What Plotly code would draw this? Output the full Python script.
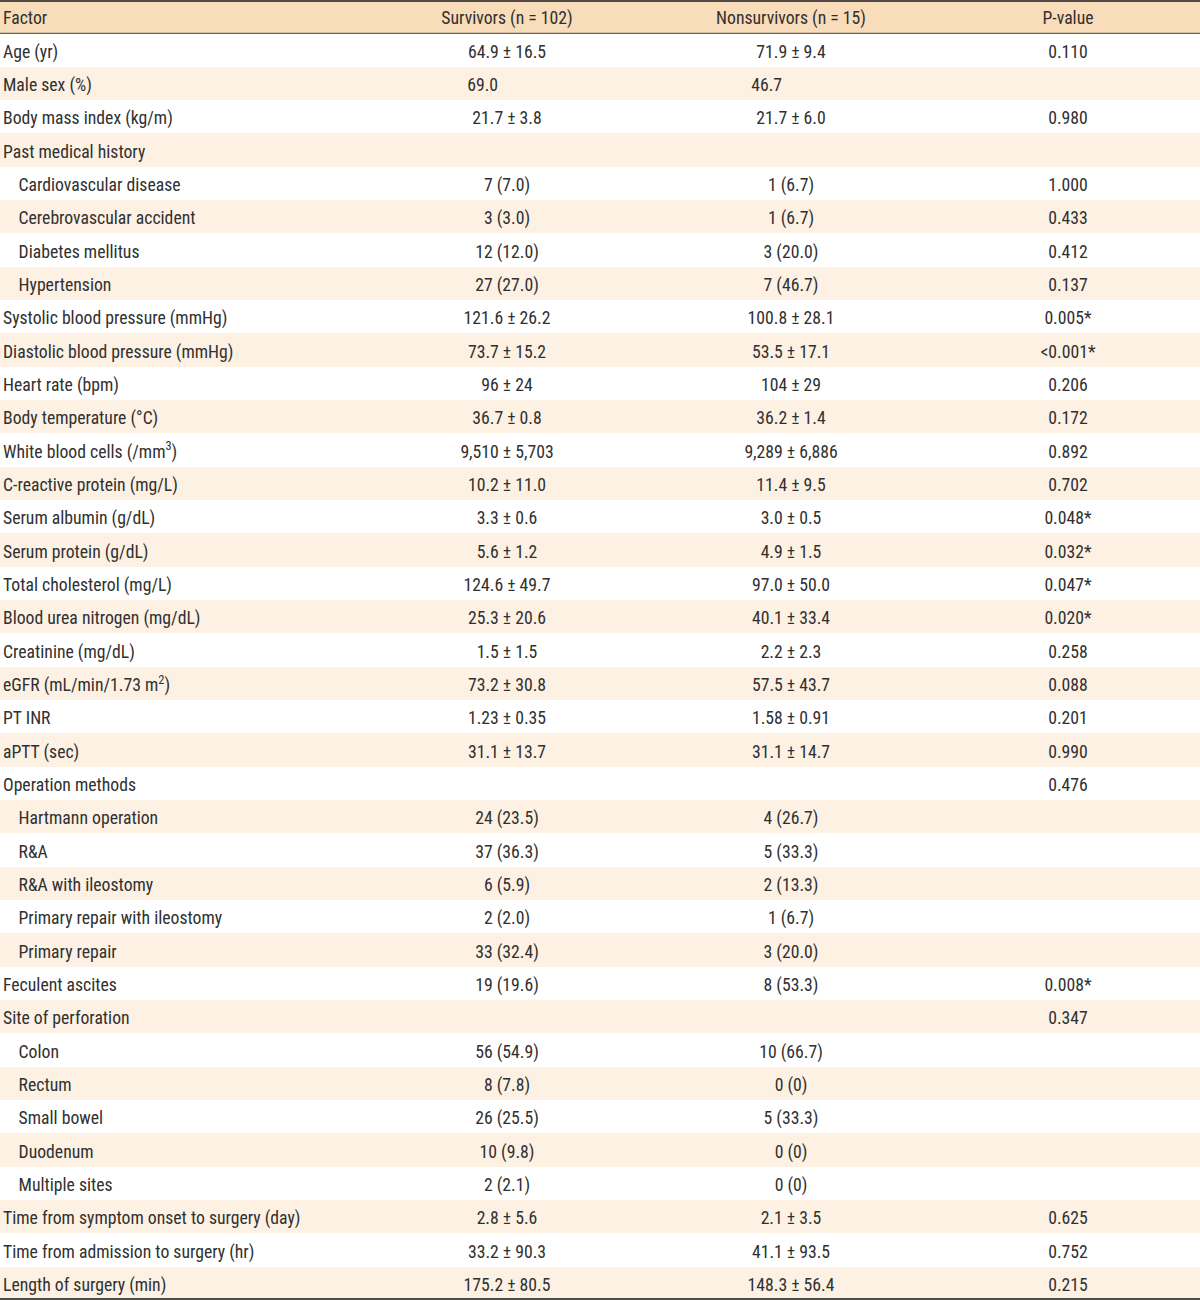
import plotly.graph_objects as go

headers = ["Factor", "Survivors (n = 102)", "Nonsurvivors (n = 15)", "P-value"]

IND = "\u00a0\u00a0\u00a0\u2009"
PAD = "\u00a0" * 12

factors = [
    "Age (yr)", "Male sex (%)", "Body mass index (kg/m)", "Past medical history",
    IND + "Cardiovascular disease", IND + "Cerebrovascular accident", IND + "Diabetes mellitus", IND + "Hypertension",
    "Systolic blood pressure (mmHg)", "Diastolic blood pressure (mmHg)", "Heart rate (bpm)",
    "Body temperature (°C)", "White blood cells (/mm<sup>3</sup>)", "C-reactive protein (mg/L)",
    "Serum albumin (g/dL)", "Serum protein (g/dL)", "Total cholesterol (mg/L)",
    "Blood urea nitrogen (mg/dL)", "Creatinine (mg/dL)", "eGFR (mL/min/1.73 m<sup>2</sup>)",
    "PT INR", "aPTT (sec)", "Operation methods",
    IND + "Hartmann operation", IND + "R&A", IND + "R&A with ileostomy",
    IND + "Primary repair with ileostomy", IND + "Primary repair",
    "Feculent ascites", "Site of perforation",
    IND + "Colon", IND + "Rectum", IND + "Small bowel", IND + "Duodenum", IND + "Multiple sites",
    "Time from symptom onset to surgery (day)", "Time from admission to surgery (hr)",
    "Length of surgery (min)",
]

survivors = [
    "64.9 ± 16.5", "69.0" + PAD, "21.7 ± 3.8", "",
    "7 (7.0)", "3 (3.0)", "12 (12.0)", "27 (27.0)",
    "121.6 ± 26.2", "73.7 ± 15.2", "96 ± 24", "36.7 ± 0.8", "9,510 ± 5,703",
    "10.2 ± 11.0", "3.3 ± 0.6", "5.6 ± 1.2", "124.6 ± 49.7", "25.3 ± 20.6",
    "1.5 ± 1.5", "73.2 ± 30.8", "1.23 ± 0.35", "31.1 ± 13.7", "",
    "24 (23.5)", "37 (36.3)", "6 (5.9)", "2 (2.0)", "33 (32.4)",
    "19 (19.6)", "",
    "56 (54.9)", "8 (7.8)", "26 (25.5)", "10 (9.8)", "2 (2.1)",
    "2.8 ± 5.6", "33.2 ± 90.3", "175.2 ± 80.5",
]

nonsurvivors = [
    "71.9 ± 9.4", "46.7" + PAD, "21.7 ± 6.0", "",
    "1 (6.7)", "1 (6.7)", "3 (20.0)", "7 (46.7)",
    "100.8 ± 28.1", "53.5 ± 17.1", "104 ± 29", "36.2 ± 1.4", "9,289 ± 6,886",
    "11.4 ± 9.5", "3.0 ± 0.5", "4.9 ± 1.5", "97.0 ± 50.0", "40.1 ± 33.4",
    "2.2 ± 2.3", "57.5 ± 43.7", "1.58 ± 0.91", "31.1 ± 14.7", "",
    "4 (26.7)", "5 (33.3)", "2 (13.3)", "1 (6.7)", "3 (20.0)",
    "8 (53.3)", "",
    "10 (66.7)", "0 (0)", "5 (33.3)", "0 (0)", "0 (0)",
    "2.1 ± 3.5", "41.1 ± 93.5", "148.3 ± 56.4",
]

pvalues = [
    "0.110", "", "0.980", "",
    "1.000", "0.433", "0.412", "0.137",
    "0.005*", "&lt;0.001*", "0.206", "0.172", "0.892",
    "0.702", "0.048*", "0.032*", "0.047*", "0.020*",
    "0.258", "0.088", "0.201", "0.990", "0.476",
    "", "", "", "", "",
    "0.008*", "0.347",
    "", "", "", "", "",
    "0.625", "0.752", "0.215",
]

HEADER_BG = "#f9dcb9"
STRIPE = "#fdf1e4"
TEXT = "#303030"
RULE = "#4f4a45"
FONT = "Roboto Condensed, Liberation Sans Narrow, Roboto, sans-serif"
FSIZE = 17.7

W, H = 1200, 1300
n = len(factors)
rows = list(range(n))
col_x = [3, 507, 791, 1068]
TEXT_SHIFT = 0.1  # nudge text slightly downward within each row

fig = go.Figure()

# header band
fig.add_trace(go.Bar(
    y=[-1], x=[W], base=0, orientation="h", width=1,
    marker=dict(color=HEADER_BG, line=dict(width=0)),
    hoverinfo="skip", showlegend=False,
))
# striped rows
stripe_rows = [r for r in rows if r % 2 == 1]
fig.add_trace(go.Bar(
    y=stripe_rows, x=[W] * len(stripe_rows), base=0, orientation="h", width=1,
    marker=dict(color=STRIPE, line=dict(width=0)),
    hoverinfo="skip", showlegend=False,
))

# header texts
for i, h in enumerate(headers):
    fig.add_trace(go.Scatter(
        x=[col_x[i]], y=[-1 + TEXT_SHIFT], mode="text", text=[h],
        textposition="middle right" if i == 0 else "middle center",
        textfont=dict(family=FONT, size=FSIZE, color=TEXT),
        hoverinfo="skip", showlegend=False, cliponaxis=False,
    ))

# body texts (skip empty cells)
for i, col in enumerate([factors, survivors, nonsurvivors, pvalues]):
    ys = [r + TEXT_SHIFT for r, t in zip(rows, col) if t]
    ts = [t for t in col if t]
    fig.add_trace(go.Scatter(
        x=[col_x[i]] * len(ts), y=ys, mode="text", text=ts,
        textposition="middle right" if i == 0 else "middle center",
        textfont=dict(family=FONT, size=FSIZE, color=TEXT),
        hoverinfo="skip", showlegend=False, cliponaxis=False,
    ))

shapes = [
    dict(type="line", xref="paper", yref="paper", x0=0, x1=1, y0=1 - 1 / H, y1=1 - 1 / H,
         line=dict(color=RULE, width=2)),
    dict(type="line", xref="paper", yref="y", x0=0, x1=1, y0=-0.5, y1=-0.5,
         line=dict(color="#6a625b", width=1.3)),
    dict(type="line", xref="paper", yref="paper", x0=0, x1=1, y0=1 / H, y1=1 / H,
         line=dict(color=RULE, width=2)),
]

fig.update_layout(
    width=W, height=H,
    margin=dict(l=0, r=0, t=0, b=0),
    paper_bgcolor="white", plot_bgcolor="white",
    bargap=0, barmode="overlay",
    xaxis=dict(range=[0, W], visible=False, fixedrange=True),
    yaxis=dict(range=[n - 0.5, -1.5], visible=False, fixedrange=True),
    shapes=shapes,
    showlegend=False,
)

fig.write_html("out.html", config={"displayModeBar": False},
               post_script="document.body.style.margin='0';")
